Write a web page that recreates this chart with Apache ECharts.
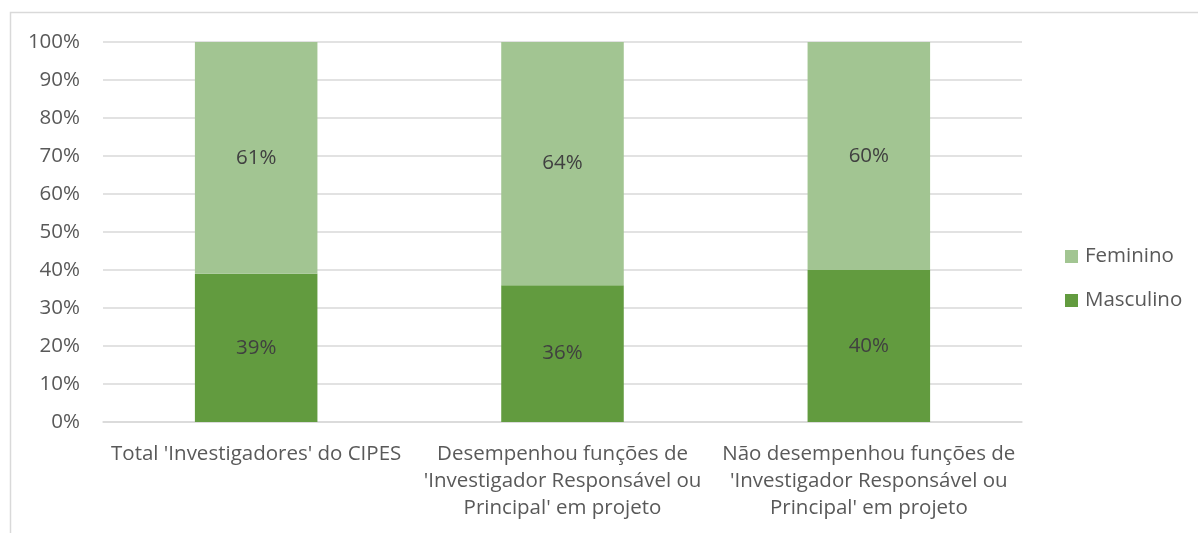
<!DOCTYPE html>
<html>
<head>
<meta charset="utf-8">
<script src="https://cdn.jsdelivr.net/npm/echarts@6/dist/echarts.min.js"></script>
<style>
html,body{margin:0;padding:0;background:#fff;}
#chart{width:1198px;height:533px;}
</style>
</head>
<body>
<div id="chart"></div>
<script>
var categories = ["Total 'Investigadores' do CIPES", "Desempenhou funções de\n'Investigador Responsável ou\nPrincipal' em projeto", "Não desempenhou funções de\n'Investigador Responsável ou\nPrincipal' em projeto"];
var masculino = [39, 36, 40];
var feminino = [61, 64, 60];
var yTicks = [0, 10, 20, 30, 40, 50, 60, 70, 80, 90, 100];

var FONT = 'Open Sans';
var FS = 20.5;
var chart = echarts.init(document.getElementById('chart'), null, {renderer: 'canvas'});
var labelStyle = {
  show: true, position: 'inside', color: '#404040', fontFamily: FONT, fontSize: FS,
  formatter: function (p) { return p.value + '%'; }
};
chart.setOption({
  animation: false,
  backgroundColor: '#fff',
  graphic: [{
    type: 'polyline', silent: true,
    shape: {points: [[10.5, 533], [10.5, 12.5], [1198, 12.5]]},
    style: {stroke: '#d9d9d9', lineWidth: 1.5, fill: null}
  }],
  grid: {left: 103, right: 176, top: 42, bottom: 111, containLabel: false},
  legend: {
    orient: 'vertical', left: 1060, top: 241, itemGap: 23,
    itemWidth: 13, itemHeight: 13, icon: 'rect',
    textStyle: {color: '#595959', fontFamily: FONT, fontSize: FS, padding: [0, 0, 0, 2]},
    data: ['Feminino', 'Masculino']
  },
  xAxis: {
    type: 'category', data: categories,
    axisLine: {show: true, lineStyle: {color: '#d9d9d9', width: 1.5}},
    axisTick: {show: false},
    axisLabel: {color: '#595959', fontFamily: FONT, fontSize: FS, lineHeight: 27, margin: 19, interval: 0}
  },
  yAxis: {
    type: 'value', min: 0, max: 100, interval: 10,
    axisLine: {show: false}, axisTick: {show: false},
    splitLine: {lineStyle: {color: '#d9d9d9', width: 1.5}},
    axisLabel: {color: '#595959', fontFamily: FONT, fontSize: FS, margin: 23,
      formatter: function (v) { return yTicks.indexOf(v) >= 0 ? v + '%' : ''; }}
  },
  series: [
    {name: 'Masculino', type: 'bar', stack: 'total', data: masculino, barWidth: '40%',
     itemStyle: {color: '#629B3F'}, label: labelStyle},
    {name: 'Feminino', type: 'bar', stack: 'total', data: feminino, barWidth: '40%',
     itemStyle: {color: '#A2C592'}, label: labelStyle}
  ]
});
</script>
</body>
</html>
